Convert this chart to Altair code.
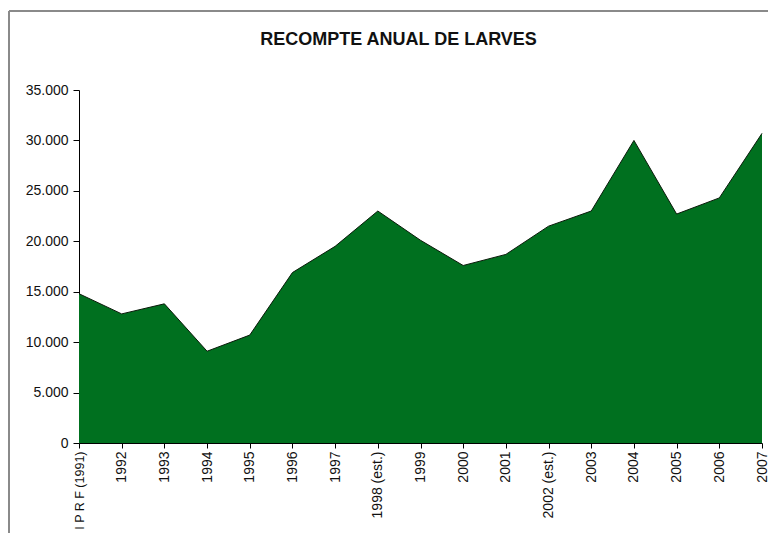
import altair as alt
import pandas as pd

years = ["I P R F (1991)", "1992", "1993", "1994", "1995", "1996", "1997",
         "1998 (est.)", "1999", "2000", "2001", "2002 (est.)", "2003", "2004",
         "2005", "2006", "2007"]
larvae = [14800, 12800, 13800, 9100, 10700, 16900, 19500, 23000, 20100,
          17600, 18700, 21500, 23000, 30000, 22700, 24300, 30700]
title_text = ["RECOMPTE ANUAL DE LARVES"]

df = pd.DataFrame({"year": years, "count": larvae})
tdf = pd.DataFrame({"t": title_text})

W, H = 683, 353
FONT = "Liberation Sans"

xenc = alt.X("year:N", sort=years, title=None,
             scale=alt.Scale(type="point", padding=0),
             axis=alt.Axis(labelAngle=-90,
                           labelFontSize={"condition": {"test": "datum.index == 0", "value": 12.5},
                                          "value": 14},
                           labelFont=FONT,
                           labelColor="#111", tickSize=5, tickColor="#000",
                           domainColor="#000", labelPadding=3, labelOverlap=False,
                           labelBound=False))
yenc = alt.Y("count:Q", title=None,
             scale=alt.Scale(domain=[0, 35000], nice=False),
             axis=alt.Axis(values=[0, 5000, 10000, 15000, 20000, 25000, 30000, 35000],
                           labelExpr="replace(format(datum.value, ','), ',', '.')",
                           labelFontSize=14, labelFont=FONT, labelColor="#111",
                           tickSize=6, tickColor="#000", domainColor="#000",
                           labelPadding=5, grid=False))

area = alt.Chart(df).mark_area(
    color="#00701F", opacity=1, line={"color": "#0a1a0a", "strokeWidth": 1}
).encode(x=xenc, y=yenc)

title = alt.Chart(tdf).mark_text(
    font=FONT, fontSize=18, fontWeight="bold", color="#111",
    align="center", baseline="alphabetic"
).encode(text="t:N", x=alt.value(319.5), y=alt.value(-45))

frame_top = alt.Chart(tdf).mark_rule(color="#8a8a8a", strokeWidth=2).encode(
    x=alt.value(-70), x2=alt.value(W + 10), y=alt.value(-79))
frame_left = alt.Chart(tdf).mark_rule(color="#8a8a8a", strokeWidth=2).encode(
    x=alt.value(-70), y=alt.value(-79), y2=alt.value(H + 100))

chart = alt.layer(area, title, frame_top, frame_left).properties(
    width=W, height=H,
    autosize=alt.AutoSizeParams(type="none"),
    padding={"left": 71, "top": 82, "right": 6, "bottom": 90},
).configure(background="white").configure_view(strokeWidth=0, stroke="transparent")

chart.save("out.html", embed_options={"renderer": "svg", "actions": False})
